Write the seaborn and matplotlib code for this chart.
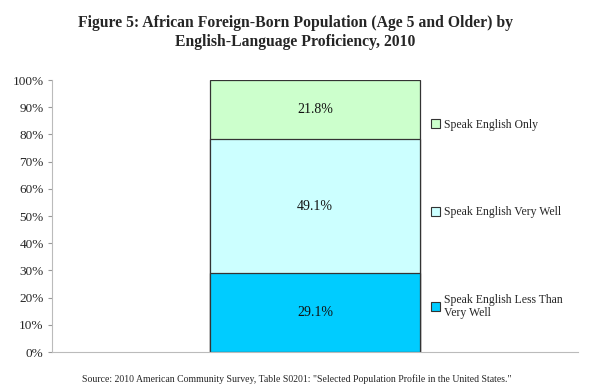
import matplotlib
matplotlib.use('Agg')
import matplotlib.pyplot as plt
from matplotlib.patches import Patch
from matplotlib.ticker import PercentFormatter
import seaborn as sns
import numpy as np
import pandas as pd

# ============ 数据 ============
categories = ['Speak English Less Than\nVery Well', 'Speak English Very Well', 'Speak English Only']
shares = [29.1, 49.1, 21.8]
colors = ['#00CCFF', '#CCFFFF', '#CCFFCC']
group = ['Africa']

sns.set_style('white')
plt.rcParams['font.family'] = ['Liberation Serif', 'DejaVu Serif']

fig = plt.figure(figsize=(5.9, 3.89), dpi=100)
ax = fig.add_axes([0.0881, 0.0951, 0.8916, 0.6992])

# 堆叠：从总量往下叠画
tops = np.cumsum(shares)
for i in reversed(range(len(shares))):
    df = pd.DataFrame({'g': group, 'v': [tops[i]]})
    sns.barplot(data=df, x='g', y='v', ax=ax, color=colors[i], saturation=1,
                width=0.4, edgecolor='#333333', linewidth=0.9)

bottoms = tops - np.array(shares)
for b, s in zip(bottoms, shares):
    ax.text(0, b + s / 2, f'{s:.1f}%', ha='center', va='center', fontsize=10, color='#111111')

ax.set_xlim(-0.5, 0.5)
ax.set_ylim(0, 100)
ax.set_yticks(range(0, 101, 10))
ax.yaxis.set_major_formatter(PercentFormatter(decimals=0))
ax.set_xticks([])
ax.set_xlabel('')
ax.set_ylabel('')
ax.tick_params(axis='y', labelsize=9.5, length=3, color='#999999', left=True, pad=3)
for side in ['top', 'right']:
    ax.spines[side].set_visible(False)
for side in ['left', 'bottom']:
    ax.spines[side].set_color('#bbbbbb')
    ax.spines[side].set_linewidth(0.8)

handles = [Patch(facecolor=c, edgecolor='#333333', linewidth=0.8) for c in colors]
leg = ax.legend(handles[::-1], categories[::-1], loc='center left',
                bbox_to_anchor=(0.70, 0.49), frameon=False, fontsize=8.5,
                labelspacing=6.4, handlelength=0.8, handleheight=0.8,
                handletextpad=0.3)
for t in leg.get_texts():
    t.set_linespacing(1.1)

fig.text(0.5, 0.962, 'Figure 5: African Foreign-Born Population (Age 5 and Older) by\n'
         'English-Language Proficiency, 2010', ha='center', va='top',
         fontsize=11.3, fontweight='bold', linespacing=1.3)
fig.text(0.503, 0.025, 'Source: 2010 American Community Survey, Table S0201: '
         '"Selected Population Profile in the United States."',
         ha='center', va='center', fontsize=7)

fig.savefig('out.png', dpi=100)
